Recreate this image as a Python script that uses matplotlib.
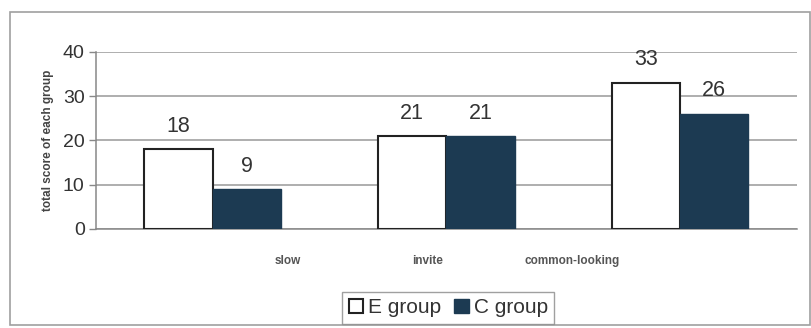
import numpy as np
import matplotlib.pyplot as plt
from matplotlib.patches import Rectangle

# total scores per word for the two groups
words = ["slow", "invite", "common-looking"]
e_group = [18, 21, 33]
c_group = [9, 21, 26]
yticks = [0, 10, 20, 30, 40]
# word labels sit a little off the bar pairs
label_pos = [0.32, 0.92, 1.54]

plt.rcParams["font.family"] = ["Liberation Sans", "DejaVu Sans"]

fig = plt.figure(figsize=(8.12, 3.28), dpi=100)
fig.patches.append(Rectangle((0.012, 0.008), 0.985, 0.955, transform=fig.transFigure,
                             fill=False, edgecolor="#a0a0a0", linewidth=1.2))

ax = fig.add_axes([0.118, 0.302, 0.8633, 0.5396])
x = np.arange(len(words))
w = 0.292
dark = "#1c3a52"

b1 = ax.bar(x - w / 2, e_group, w, color="white", edgecolor="#222222", linewidth=1.5,
            label="E group", zorder=3)
b2 = ax.bar(x + w / 2, c_group, w, color=dark, edgecolor=dark, linewidth=1,
            label="C group", zorder=3)

for bars, vals in ((b1, e_group), (b2, c_group)):
    for r, v in zip(bars, vals):
        ax.annotate(str(v), (r.get_x() + r.get_width() / 2, v), xytext=(0, 9),
                    textcoords="offset points", ha="center", va="bottom",
                    fontsize=15.5, color="#333333")

ax.set_xlim(-0.5, 2.5)
ax.set_ylim(0, 40)
ax.set_yticks(yticks)
ax.tick_params(axis="y", labelsize=14, labelcolor="#333333", length=5, color="#888888",
               width=1, pad=3)
ax.yaxis.grid(True, color="#999999", linewidth=1.1, zorder=0)
ax.set_axisbelow(True)

ax.set_xticks(label_pos)
ax.set_xticklabels(words, fontsize=8.5, fontweight="bold", color="#555555")
ax.tick_params(axis="x", length=0, pad=19)

for s in ("top", "right"):
    ax.spines[s].set_visible(False)
ax.spines["left"].set_color("#888888")
ax.spines["bottom"].set_color("#888888")
ax.spines["left"].set_linewidth(1.1)
ax.spines["bottom"].set_linewidth(1.1)

ax.set_ylabel("total score of each group", fontsize=8.5, fontweight="bold", color="#444444",
              labelpad=6)

fig.legend(handles=[b1, b2], loc="center", bbox_to_anchor=(0.552, 0.061), ncol=2,
           fontsize=15, frameon=True, fancybox=False, edgecolor="#888888",
           handlelength=0.7, handleheight=0.7, handletextpad=0.25, columnspacing=0.6,
           borderpad=0.3, borderaxespad=0.2, labelcolor="#333333")

fig.savefig("out.png", dpi=100)
